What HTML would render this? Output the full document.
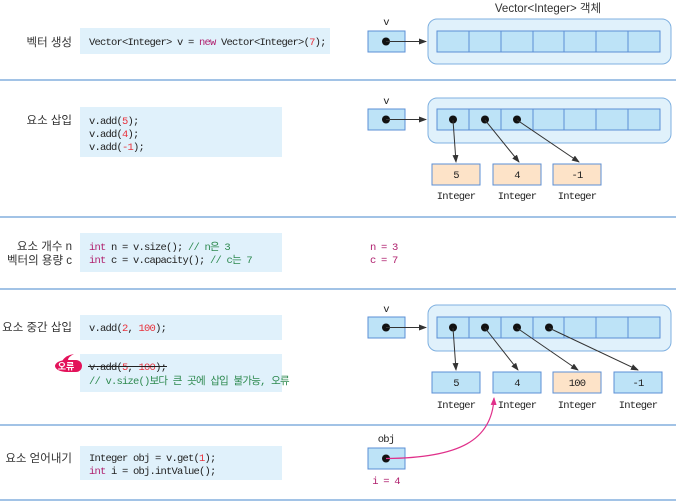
<!DOCTYPE html>
<html><head><meta charset="utf-8"><style>
html,body{margin:0;padding:0;background:#fff;}
svg{display:block;}
.k{font-family:"Liberation Sans","Noto Sans CJK KR",sans-serif;font-size:11.5px;fill:#333;}
.m{font-family:"Liberation Mono","Noto Sans CJK KR",monospace;font-size:10.5px;letter-spacing:-0.8px;fill:#222;}
.r{fill:#e8323c;} .p{fill:#b0206e;} .g{fill:#2e8a50;}
.cb{fill:#e0f1fb;}
.ref{fill:#bde3f7;stroke:#5b8fd6;stroke-width:1;}
.outer{fill:#e0f1fb;stroke:#7fb0e0;stroke-width:1;}
.cell{fill:#bde3f7;stroke:#5b8fd6;stroke-width:1;}
.ob{fill:#fde3c8;stroke:#5b8fd6;stroke-width:1;}
.ib{fill:#bde3f7;stroke:#5b8fd6;stroke-width:1;}
.sep{stroke:#6a9fd8;stroke-width:1.2;}
.ln{stroke:#333;stroke-width:1;fill:none;marker-end:url(#ah);}
</style></head><body>
<svg width="676" height="504" viewBox="0 0 676 504" xmlns="http://www.w3.org/2000/svg">
<defs>
<marker id="ah" markerWidth="8" markerHeight="6" refX="7" refY="3" orient="auto" markerUnits="userSpaceOnUse"><path d="M0,0 L8,3 L0,6 z" fill="#333"/></marker>
<marker id="ahp" markerWidth="8" markerHeight="6" refX="7" refY="3" orient="auto" markerUnits="userSpaceOnUse"><path d="M0,0 L8,3 L0,6 z" fill="#e0308a"/></marker>
</defs>
<line class="sep" x1="0" y1="80" x2="676" y2="80"/>
<line class="sep" x1="0" y1="217" x2="676" y2="217"/>
<line class="sep" x1="0" y1="289" x2="676" y2="289"/>
<line class="sep" x1="0" y1="425" x2="676" y2="425"/>
<line class="sep" x1="0" y1="500" x2="676" y2="500"/>

<!-- Row 1 -->
<text class="k" x="72" y="46" text-anchor="end">벡터 생성</text>
<rect class="cb" x="80" y="28" width="250" height="26"/>
<text class="m" x="89" y="45">Vector&lt;Integer&gt; v = <tspan class="p">new</tspan> Vector&lt;Integer&gt;(<tspan class="r">7</tspan>);</text>
<text class="k" x="548" y="12" text-anchor="middle">Vector&lt;Integer&gt; 객체</text>
<text class="m" x="386" y="25" text-anchor="middle">v</text>
<rect class="ref" x="368" y="31" width="37" height="21"/>
<circle cx="386" cy="41.5" r="4" fill="#111"/>
<line class="ln" x1="386" y1="41.5" x2="426" y2="41.5"/>
<rect class="outer" x="428" y="19" width="243" height="45" rx="9"/>
<rect class="cell" x="437" y="31" width="32" height="21"/><rect class="cell" x="469" y="31" width="32" height="21"/><rect class="cell" x="501" y="31" width="32" height="21"/><rect class="cell" x="533" y="31" width="31" height="21"/><rect class="cell" x="564" y="31" width="32" height="21"/><rect class="cell" x="596" y="31" width="32" height="21"/><rect class="cell" x="628" y="31" width="32" height="21"/>

<!-- Row 2 -->
<text class="k" x="72" y="124" text-anchor="end">요소 삽입</text>
<rect class="cb" x="80" y="107" width="202" height="50"/>
<text class="m" x="89" y="124">v.add(<tspan class="r">5</tspan>);</text>
<text class="m" x="89" y="137">v.add(<tspan class="r">4</tspan>);</text>
<text class="m" x="89" y="150">v.add(<tspan class="r">-1</tspan>);</text>
<text class="m" x="386" y="104" text-anchor="middle">v</text>
<rect class="ref" x="368" y="109" width="37" height="21"/>
<circle cx="386" cy="119.5" r="4" fill="#111"/>
<line class="ln" x1="386" y1="119.5" x2="426" y2="119.5"/>
<rect class="outer" x="428" y="98" width="243" height="45" rx="9"/>
<rect class="cell" x="437" y="109" width="32" height="21"/><rect class="cell" x="469" y="109" width="32" height="21"/><rect class="cell" x="501" y="109" width="32" height="21"/><rect class="cell" x="533" y="109" width="31" height="21"/><rect class="cell" x="564" y="109" width="32" height="21"/><rect class="cell" x="596" y="109" width="32" height="21"/><rect class="cell" x="628" y="109" width="32" height="21"/>
<circle cx="453" cy="119.5" r="4" fill="#111"/><circle cx="485" cy="119.5" r="4" fill="#111"/><circle cx="517" cy="119.5" r="4" fill="#111"/>
<line class="ln" x1="453" y1="120" x2="456" y2="162"/>
<line class="ln" x1="485" y1="120" x2="519" y2="162"/>
<line class="ln" x1="517" y1="120" x2="579" y2="162"/>
<rect class="ob" x="432" y="164" width="48" height="21"/><text class="m" x="456" y="178" text-anchor="middle">5</text>
<rect class="ob" x="493" y="164" width="48" height="21"/><text class="m" x="517" y="178" text-anchor="middle">4</text>
<rect class="ob" x="553" y="164" width="48" height="21"/><text class="m" x="577" y="178" text-anchor="middle">-1</text>
<text class="m" x="456" y="199" text-anchor="middle">Integer</text>
<text class="m" x="517" y="199" text-anchor="middle">Integer</text>
<text class="m" x="577" y="199" text-anchor="middle">Integer</text>

<!-- Row 3 -->
<text class="k" x="72" y="250" text-anchor="end">요소 개수 n</text>
<text class="k" x="72" y="264" text-anchor="end">벡터의 용량 c</text>
<rect class="cb" x="80" y="233" width="202" height="39"/>
<text class="m" x="89" y="250"><tspan class="p">int</tspan> n = v.size(); <tspan class="g">// n은 3</tspan></text>
<text class="m" x="89" y="263"><tspan class="p">int</tspan> c = v.capacity(); <tspan class="g">// c는 7</tspan></text>
<text class="m p" x="370" y="250">n = 3</text>
<text class="m p" x="370" y="263">c = 7</text>

<!-- Row 4 -->
<text class="k" x="72" y="331" text-anchor="end">요소 중간 삽입</text>
<rect class="cb" x="80" y="315" width="202" height="25"/>
<text class="m" x="89" y="331">v.add(<tspan class="r">2</tspan>, <tspan class="r">100</tspan>);</text>
<rect class="cb" x="80" y="354" width="202" height="38"/>
<path d="M55,366 a12,6 0 0 1 12,-6 l9,0 a6,6 0 0 1 0,12 l-9,0 a12,6 0 0 1 -12,-6z M62,361 q4,-6 12,-7 q-6,3 -6,6z" fill="#e3125a"/>
<text x="66" y="369.5" text-anchor="middle" font-family="Liberation Sans,Noto Sans CJK KR,sans-serif" font-size="9" font-weight="bold" fill="#fff">오류</text>
<text class="m" x="89" y="370">v.add(<tspan class="r">5</tspan>, <tspan class="r">100</tspan>);</text>
<line x1="88" y1="366.5" x2="167" y2="366.5" stroke="#222" stroke-width="1"/>
<text class="m g" x="89" y="384">// v.size()보다 큰 곳에 삽입 불가능, 오류</text>
<text class="m" x="386" y="312" text-anchor="middle">v</text>
<rect class="ref" x="368" y="317" width="37" height="21"/>
<circle cx="386" cy="327.5" r="4" fill="#111"/>
<line class="ln" x1="386" y1="327.5" x2="426" y2="327.5"/>
<rect class="outer" x="428" y="305" width="243" height="46" rx="9"/>
<rect class="cell" x="437" y="317" width="32" height="21"/><rect class="cell" x="469" y="317" width="32" height="21"/><rect class="cell" x="501" y="317" width="32" height="21"/><rect class="cell" x="533" y="317" width="31" height="21"/><rect class="cell" x="564" y="317" width="32" height="21"/><rect class="cell" x="596" y="317" width="32" height="21"/><rect class="cell" x="628" y="317" width="32" height="21"/>
<circle cx="453" cy="327.5" r="4" fill="#111"/><circle cx="485" cy="327.5" r="4" fill="#111"/><circle cx="517" cy="327.5" r="4" fill="#111"/><circle cx="549" cy="327.5" r="4" fill="#111"/>
<line class="ln" x1="453" y1="328" x2="456" y2="370"/>
<line class="ln" x1="485" y1="328" x2="518" y2="370"/>
<line class="ln" x1="517" y1="328" x2="578" y2="370"/>
<line class="ln" x1="549" y1="328" x2="638" y2="370"/>
<rect class="ib" x="432" y="372" width="48" height="21"/><text class="m" x="456" y="386" text-anchor="middle">5</text>
<rect class="ib" x="493" y="372" width="48" height="21"/><text class="m" x="517" y="386" text-anchor="middle">4</text>
<rect class="ob" x="553" y="372" width="48" height="21"/><text class="m" x="577" y="386" text-anchor="middle">100</text>
<rect class="ib" x="614" y="372" width="48" height="21"/><text class="m" x="638" y="386" text-anchor="middle">-1</text>
<text class="m" x="456" y="408" text-anchor="middle">Integer</text>
<text class="m" x="517" y="408" text-anchor="middle">Integer</text>
<text class="m" x="577" y="408" text-anchor="middle">Integer</text>
<text class="m" x="638" y="408" text-anchor="middle">Integer</text>

<!-- Row 5 -->
<text class="k" x="72" y="462" text-anchor="end">요소 얻어내기</text>
<rect class="cb" x="80" y="446" width="202" height="34"/>
<text class="m" x="89" y="461">Integer obj = v.get(<tspan class="r">1</tspan>);</text>
<text class="m" x="89" y="474"><tspan class="p">int</tspan> i = obj.intValue();</text>
<text class="m" x="386" y="442" text-anchor="middle">obj</text>
<rect class="ref" x="368" y="448" width="37" height="21"/>
<circle cx="386" cy="458.5" r="4" fill="#111"/>
<path d="M386,458.5 C460,458 492,440 494,398" stroke="#e0308a" stroke-width="1.2" fill="none" marker-end="url(#ahp)"/>
<text class="m p" x="386" y="484" text-anchor="middle">i = 4</text>
</svg>
</body></html>
